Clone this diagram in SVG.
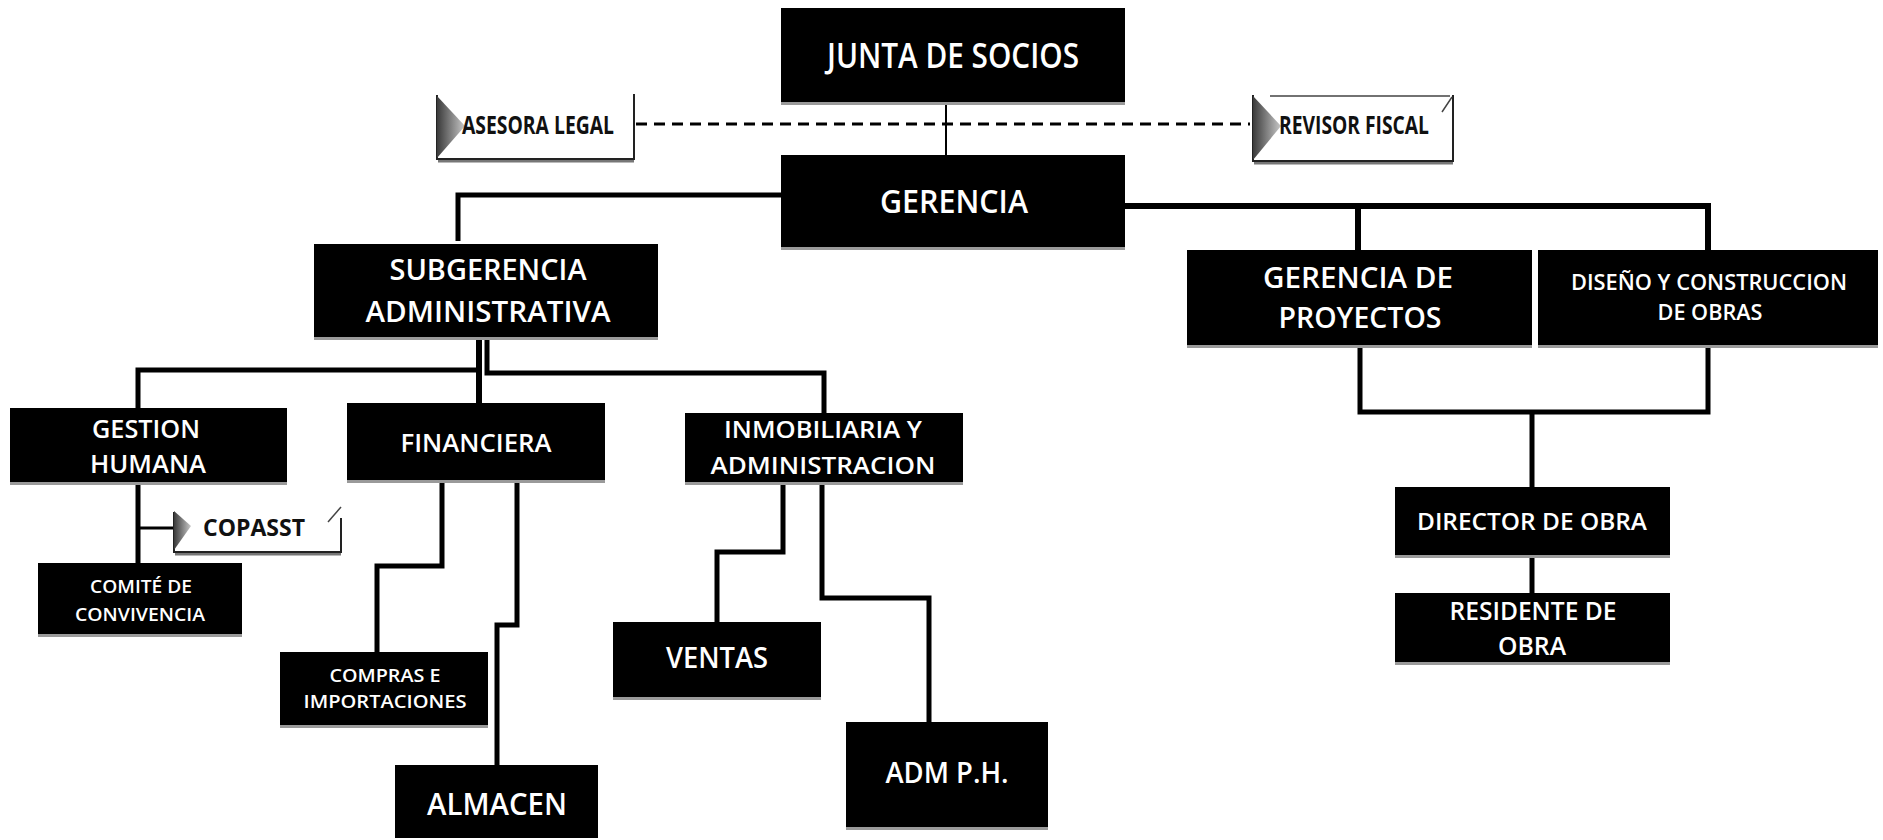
<svg xmlns="http://www.w3.org/2000/svg" width="1883" height="840" viewBox="0 0 1883 840">
<style>
.box{fill:#000}
.sh{fill:#9a9a9a}
.t{font-family:"Open Sans","Liberation Sans",sans-serif;font-weight:600;fill:#fff;text-anchor:middle}
.lt{font-family:"Open Sans","Liberation Sans",sans-serif;font-weight:700;fill:#111;text-anchor:middle}
.wb{fill:#fff}
.wbb{fill:none;stroke:#222;stroke-width:2}
.wsh{fill:none;stroke:#777;stroke-width:3}
.c{fill:none;stroke:#000;stroke-width:5;stroke-linejoin:miter}
.thin{fill:none;stroke:#000;stroke-width:2}
.dash{fill:none;stroke:#000;stroke-width:3;stroke-dasharray:11 7}
.curl{fill:none;stroke:#444;stroke-width:1.5}
</style>
<defs>
<linearGradient id="tri" x1="0" y1="0" x2="1" y2="0">
<stop offset="0" stop-color="#3a3a3a"/>
<stop offset="1" stop-color="#c8c8c8"/>
</linearGradient>
</defs>
<rect width="1883" height="840" fill="#fff"/>

<g id="connectors">
<line class="thin" x1="946" y1="103" x2="946" y2="155"/>
<line class="dash" x1="636" y1="124" x2="1250" y2="124"/>
<path class="c" d="M781,195 H458 V241"/>
<path class="c" style="stroke-width:6" d="M1125,206 H1708 V250"/>
<path class="c" style="stroke-width:6" d="M1358,206 V250"/>
<path class="c" style="stroke-width:6" d="M479,337 V403"/>
<path class="c" d="M479,370 H138 V408"/>
<path class="c" d="M487,337 V373 H824 V413"/>
<path class="c" d="M138,482 V563"/>
<path class="c" style="stroke-width:3" d="M138,528 H173"/>
<path class="c" d="M442,480 V566 H377 V652"/>
<path class="c" d="M517,480 V625 H497 V765"/>
<path class="c" d="M783,482 V552 H717 V622"/>
<path class="c" d="M822,482 V598 H929 V722"/>
<path class="c" d="M1360,345 V412 H1708 V345"/>
<path class="c" d="M1532,412 V487"/>
<path class="c" d="M1532,555 V593"/>
</g>

<g id="junta">
<rect class="sh" x="781" y="100" width="344" height="5"/>
<rect class="box" x="781" y="8" width="344" height="94"/>
<text class="t" x="953" y="68" font-size="35" textLength="252" lengthAdjust="spacingAndGlyphs">JUNTA DE SOCIOS</text>
</g>

<g id="asesora">
<rect class="wb" x="436" y="95" width="198" height="65"/>
<path class="wsh" d="M438,161 H634"/>
<path class="wbb" d="M437,95 V159 H634 V94"/>
<polygon points="437,96 465,126 437,158" fill="url(#tri)"/>
<text class="lt" x="538" y="134" font-size="25" textLength="152" lengthAdjust="spacingAndGlyphs">ASESORA LEGAL</text>
</g>

<g id="revisor">
<rect class="wb" x="1252" y="95" width="201" height="67"/>
<path class="wsh" d="M1254,163 H1453"/>
<path class="wbb" d="M1253,95 V161 H1453 V95"/>
<path class="curl" d="M1270,96 H1450 M1442,112 L1452,97"/>
<polygon points="1253,96 1281,126 1253,160" fill="url(#tri)"/>
<text class="lt" x="1354" y="134" font-size="25" textLength="150" lengthAdjust="spacingAndGlyphs">REVISOR FISCAL</text>
</g>

<g id="gerencia">
<rect class="sh" x="781" y="245" width="344" height="5"/>
<rect class="box" x="781" y="155" width="344" height="92"/>
<text class="t" x="954" y="213" font-size="32" textLength="148" lengthAdjust="spacingAndGlyphs">GERENCIA</text>
</g>

<g id="subgerencia">
<rect class="sh" x="314" y="335" width="344" height="5"/>
<rect class="box" x="314" y="244" width="344" height="93"/>
<text class="t" x="488" y="280" font-size="28" textLength="197" lengthAdjust="spacingAndGlyphs">SUBGERENCIA</text>
<text class="t" x="488" y="322" font-size="28" textLength="245" lengthAdjust="spacingAndGlyphs">ADMINISTRATIVA</text>
</g>

<g id="gerencia-proyectos">
<rect class="sh" x="1187" y="343" width="345" height="5"/>
<rect class="box" x="1187" y="250" width="345" height="95"/>
<text class="t" x="1358" y="288" font-size="28" textLength="190" lengthAdjust="spacingAndGlyphs">GERENCIA DE</text>
<text class="t" x="1360" y="328" font-size="28" textLength="163" lengthAdjust="spacingAndGlyphs">PROYECTOS</text>
</g>

<g id="diseno">
<rect class="sh" x="1538" y="343" width="340" height="5"/>
<rect class="box" x="1538" y="250" width="340" height="95"/>
<text class="t" x="1709" y="290" font-size="22" textLength="276" lengthAdjust="spacingAndGlyphs">DISEÑO Y CONSTRUCCION</text>
<text class="t" x="1710" y="320" font-size="22" textLength="105" lengthAdjust="spacingAndGlyphs">DE OBRAS</text>
</g>

<g id="gestion-humana">
<rect class="sh" x="10" y="480" width="277" height="5"/>
<rect class="box" x="10" y="408" width="277" height="74"/>
<text class="t" x="146" y="438" font-size="26" textLength="108" lengthAdjust="spacingAndGlyphs">GESTION</text>
<text class="t" x="148" y="473" font-size="26" textLength="116" lengthAdjust="spacingAndGlyphs">HUMANA</text>
</g>

<g id="financiera">
<rect class="sh" x="347" y="478" width="258" height="5"/>
<rect class="box" x="347" y="403" width="258" height="77"/>
<text class="t" x="476" y="452" font-size="26" textLength="151" lengthAdjust="spacingAndGlyphs">FINANCIERA</text>
</g>

<g id="inmobiliaria">
<rect class="sh" x="685" y="480" width="278" height="5"/>
<rect class="box" x="685" y="413" width="278" height="69"/>
<text class="t" x="823" y="438" font-size="24" textLength="198" lengthAdjust="spacingAndGlyphs">INMOBILIARIA Y</text>
<text class="t" x="823" y="474" font-size="24" textLength="225" lengthAdjust="spacingAndGlyphs">ADMINISTRACION</text>
</g>

<g id="copasst">
<rect class="wb" x="173" y="512" width="168" height="41"/>
<path class="wsh" d="M175,554 H341"/>
<path class="wbb" d="M174,512 V552 H341 V518"/>
<path class="curl" d="M328,522 L341,507"/>
<polygon points="174,511 191,526 174,550" fill="url(#tri)"/>
<text class="lt" x="254" y="536" font-size="24" textLength="102" lengthAdjust="spacingAndGlyphs">COPASST</text>
</g>

<g id="comite">
<rect class="sh" x="38" y="632" width="204" height="5"/>
<rect class="box" x="38" y="563" width="204" height="71"/>
<text class="t" x="141" y="593" font-size="18" textLength="102" lengthAdjust="spacingAndGlyphs">COMITÉ DE</text>
<text class="t" x="140" y="621" font-size="18" textLength="130" lengthAdjust="spacingAndGlyphs">CONVIVENCIA</text>
</g>

<g id="compras">
<rect class="sh" x="280" y="723" width="208" height="5"/>
<rect class="box" x="280" y="652" width="208" height="73"/>
<text class="t" x="385" y="682" font-size="18" textLength="111" lengthAdjust="spacingAndGlyphs">COMPRAS E</text>
<text class="t" x="385" y="708" font-size="18" textLength="163" lengthAdjust="spacingAndGlyphs">IMPORTACIONES</text>
</g>

<g id="almacen">
<rect class="box" x="395" y="765" width="203" height="73"/>
<text class="t" x="497" y="815" font-size="31" textLength="140" lengthAdjust="spacingAndGlyphs">ALMACEN</text>
</g>

<g id="ventas">
<rect class="sh" x="613" y="695" width="208" height="5"/>
<rect class="box" x="613" y="622" width="208" height="75"/>
<text class="t" x="717" y="668" font-size="28" textLength="102" lengthAdjust="spacingAndGlyphs">VENTAS</text>
</g>

<g id="adm-ph">
<rect class="sh" x="846" y="825" width="202" height="5"/>
<rect class="box" x="846" y="722" width="202" height="105"/>
<text class="t" x="947" y="783" font-size="28" textLength="123" lengthAdjust="spacingAndGlyphs">ADM P.H.</text>
</g>

<g id="director">
<rect class="sh" x="1395" y="553" width="275" height="5"/>
<rect class="box" x="1395" y="487" width="275" height="68"/>
<text class="t" x="1532" y="530" font-size="24" textLength="230" lengthAdjust="spacingAndGlyphs">DIRECTOR DE OBRA</text>
</g>

<g id="residente">
<rect class="sh" x="1395" y="660" width="275" height="5"/>
<rect class="box" x="1395" y="593" width="275" height="69"/>
<text class="t" x="1533" y="620" font-size="25" textLength="167" lengthAdjust="spacingAndGlyphs">RESIDENTE DE</text>
<text class="t" x="1532" y="655" font-size="25" textLength="68" lengthAdjust="spacingAndGlyphs">OBRA</text>
</g>
</svg>
